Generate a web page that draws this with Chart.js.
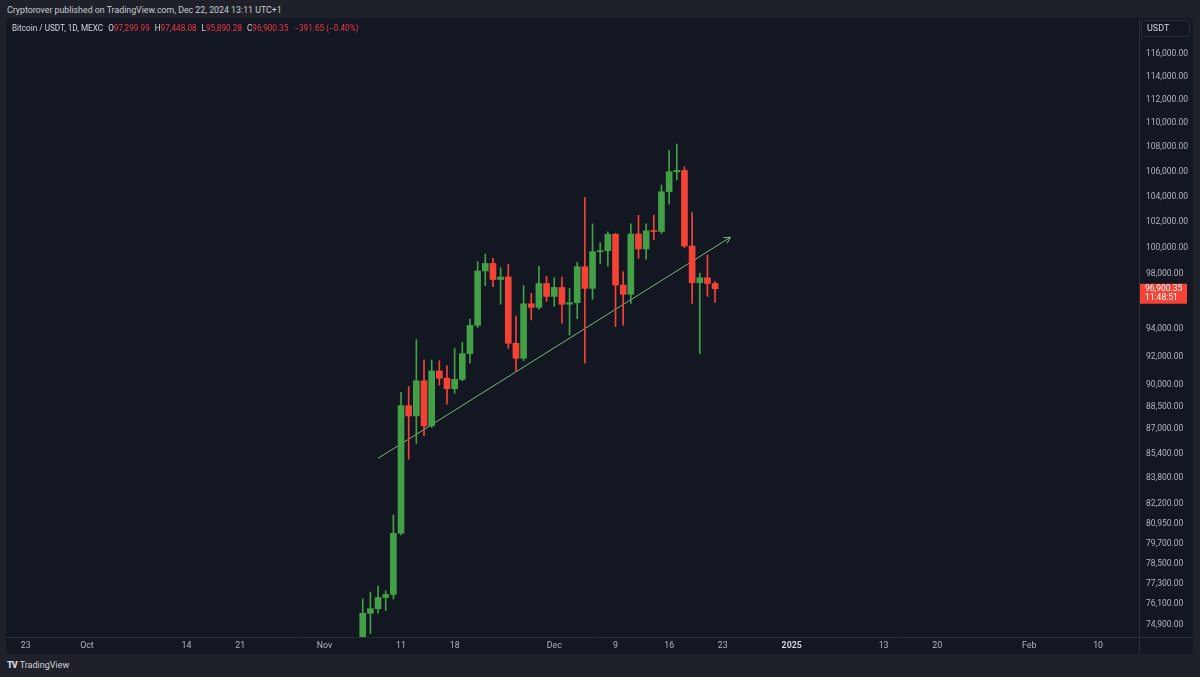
<!DOCTYPE html>
<html lang="en">
<head>
<meta charset="UTF-8">
<title>Bitcoin / USDT, 1D</title>
<script src="https://cdn.jsdelivr.net/npm/chart.js"></script>
<style>
  body { margin: 0; width: 1200px; height: 677px; overflow: hidden; background: #1e2129;
         font-family: Roboto, "Liberation Sans", sans-serif; }
  #topline { position: absolute; left: 7px; top: 5px; font-size: 8.8px; color: #c8cbd3; }
  #panel { position: absolute; left: 6px; top: 18px; width: 1187px; height: 636px;
           background: #131722; border-radius: 4px; }
  #btc { position: absolute; left: 6px; top: 18px; }
  #legend { position: absolute; left: 12px; top: 23px; font-size: 8.2px; color: #d1d4dc; white-space: nowrap; }
  #legend span { margin-left: 5px; }
  #legend .v { color: #f23645; margin-left: 0; }
  #legend .chg { margin-left: 6px; }
  #unit { position: absolute; left: 1141px; top: 20px; width: 42px; height: 15px; padding-left: 5px;
          border: 1px solid #2a2e39; border-radius: 3px; font-size: 9px; line-height: 15px; color: #d1d4dc; }
  #brand { position: absolute; left: 7px; top: 660px; font-size: 9px; color: #d1d4dc; }
  #brand b { font-weight: 900; letter-spacing: -1px; margin-right: 3px; }
</style>
</head>
<body>

<div id="topline">Cryptorover published on TradingView.com, Dec 22, 2024 13:11 UTC+1</div>
<div id="panel"></div>
<canvas id="btc" width="1187" height="636"></canvas>
<div id="legend">Bitcoin / USDT, 1D, MEXC<span>O</span><span class="v">97,299.99</span><span>H</span><span class="v">97,448.08</span><span>L</span><span class="v">95,890.28</span><span>C</span><span class="v">96,900.35</span><span class="v chg">−391.65 (−0.40%)</span></div>
<div id="unit">USDT</div>
<div id="brand"><b>TV</b>TradingView</div>

<script>
// daily candles
const dates = ['2024-11-06','2024-11-07','2024-11-08','2024-11-09','2024-11-10','2024-11-11','2024-11-12',
  '2024-11-13','2024-11-14','2024-11-15','2024-11-16','2024-11-17','2024-11-18','2024-11-19','2024-11-20',
  '2024-11-21','2024-11-22','2024-11-23','2024-11-24','2024-11-25','2024-11-26','2024-11-27','2024-11-28',
  '2024-11-29','2024-11-30','2024-12-01','2024-12-02','2024-12-03','2024-12-04','2024-12-05','2024-12-06',
  '2024-12-07','2024-12-08','2024-12-09','2024-12-10','2024-12-11','2024-12-12','2024-12-13','2024-12-14',
  '2024-12-15','2024-12-16','2024-12-17','2024-12-18','2024-12-19','2024-12-20','2024-12-21','2024-12-22'];
const opens  = [69380, 75560, 75830, 76480, 76660, 80340, 88600, 87900, 90300, 87230, 90980, 90480, 89750, 90400, 92200,
  94220, 98230, 98800, 97590, 97780, 92930, 91870, 95790, 95530, 97290, 96330, 97000, 95760, 95870, 98550, 96930,
  99690, 99770, 101030, 97180, 96490, 101050, 99900, 101300, 101250, 104380, 105990, 106100, 100130, 97350, 97720, 97299.99];
const highs  = [76400, 76790, 77160, 76880, 81480, 89500, 89900, 93200, 91760, 91760, 91700, 91340, 92560, 93000, 94680,
  98930, 99510, 99180, 98480, 98740, 94900, 97130, 96570, 98590, 97830, 97730, 97780, 96930, 98870, 103930, 101840,
  100380, 101230, 101110, 98180, 101840, 102510, 101840, 102520, 104920, 107720, 108270, 106400, 102720, 98070, 99440, 97448.08];
const lows   = [68800, 74380, 75570, 75720, 76390, 80240, 85030, 86070, 86580, 87140, 90000, 88690, 89440, 90300, 91520,
  94070, 97130, 97060, 95760, 92570, 90940, 91700, 94610, 95370, 95970, 95600, 94370, 93520, 94700, 91520, 96120,
  98800, 98590, 94130, 94230, 95810, 99180, 99130, 100600, 101100, 103400, 105320, 100000, 95810, 92200, 96330, 95890.28];
const closes = [75560, 75830, 76480, 76660, 80340, 88600, 87900, 90300, 87230, 90980, 90480, 89750, 90400, 92200, 94220,
  98230, 98800, 97590, 97780, 92930, 91870, 95790, 95530, 97290, 96330, 97000, 95760, 95870, 98550, 96930, 99690,
  99770, 101030, 97180, 96490, 101050, 99900, 101300, 101250, 104380, 105990, 106100, 100130, 97350, 97720, 97300, 96900.35];
const lastTime = '11:48:51';

// drawn trend line
const trendDates  = ['2024-11-08', '2024-12-24'];
const trendValues = [85090, 100800];

const yTicks = [74900, 76100, 77300, 78500, 79700, 80950, 82200, 83800, 85400, 87000, 88500, 90000, 92000, 94000,
  98000, 100000, 102000, 104000, 106000, 108000, 110000, 112000, 114000, 116000];
const xTickDates  = ['2024-09-23','2024-10-01','2024-10-14','2024-10-21','2024-11-01','2024-11-11','2024-11-18',
  '2024-12-01','2024-12-09','2024-12-16','2024-12-23','2025-01-01','2025-01-13','2025-01-20','2025-02-01','2025-02-10'];
const xTickLabels = ['23','Oct','14','21','Nov','11','18','Dec','9','16','23','2025','13','20','Feb','10'];

const UP = '#43a047', DOWN = '#f44336', TREND = '#7fb77e';
const AXIS_TEXT = '#b2b5be';

function dayNum(s) {
  const [y, m, d] = s.split('-').map(Number);
  return Date.UTC(y, m - 1, d) / 864e5;
}

const candleColor = dates.map((d, i) => closes[i] >= opens[i] ? UP : DOWN);
const xLabelOf = {};
xTickDates.forEach((d, i) => xLabelOf[dayNum(d)] = xTickLabels[i]);
const fmt = v => v.toLocaleString('en-US', {minimumFractionDigits: 2, maximumFractionDigits: 2});

const refDay = dayNum('2024-11-11');

const framePlugin = {
  id: 'frame',
  afterDraw(chart) {
    const {ctx, chartArea: a, scales: {y}} = chart;
    ctx.save();
    // axis separators
    ctx.strokeStyle = '#2a2e39';
    ctx.lineWidth = 1;
    ctx.beginPath();
    ctx.moveTo(a.right + 0.5, 0); ctx.lineTo(a.right + 0.5, chart.height);
    ctx.moveTo(0, a.bottom + 0.5); ctx.lineTo(chart.width, a.bottom + 0.5);
    ctx.stroke();

    // arrow head on the trend line
    const pts = chart.getDatasetMeta(2).data;
    const p0 = pts[pts.length - 2], p1 = pts[pts.length - 1];
    const ang = Math.atan2(p1.y - p0.y, p1.x - p0.x);
    ctx.strokeStyle = TREND;
    ctx.beginPath();
    ctx.moveTo(p1.x - 7 * Math.cos(ang - 0.5), p1.y - 7 * Math.sin(ang - 0.5));
    ctx.lineTo(p1.x, p1.y);
    ctx.lineTo(p1.x - 7 * Math.cos(ang + 0.5), p1.y - 7 * Math.sin(ang + 0.5));
    ctx.stroke();

    // last price label
    const last = closes.length - 1;
    const py = y.getPixelForValue(closes[last]);
    ctx.fillStyle = candleColor[last];
    ctx.fillRect(a.right + 1, py - 5, 47, 20);
    ctx.fillStyle = '#ffffff';
    ctx.font = '8.5px Roboto';
    ctx.textBaseline = 'middle';
    ctx.fillText(fmt(closes[last]), a.right + 6, py + 0.5);
    ctx.fillText(lastTime, a.right + 6, py + 9.5);
    ctx.restore();
  }
};

new Chart(document.getElementById('btc'), {
  type: 'bar',
  data: {
    datasets: [
      {
        // wicks
        data: dates.map((d, i) => ({x: dayNum(d), y: [lows[i], highs[i]]})),
        backgroundColor: candleColor,
        barThickness: 1,
        grouped: false,
        clip: 0
      },
      {
        // bodies
        data: dates.map((d, i) => ({x: dayNum(d), y: [opens[i], closes[i]]})),
        backgroundColor: candleColor,
        barThickness: 6,
        minBarLength: 1,
        grouped: false,
        clip: 0
      },
      {
        type: 'line',
        data: trendDates.map((d, i) => ({x: dayNum(d), y: trendValues[i]})),
        borderColor: TREND,
        borderWidth: 1,
        pointRadius: 0,
        fill: false,
        clip: 0
      }
    ]
  },
  options: {
    responsive: false,
    animation: false,
    devicePixelRatio: 1,
    layout: {padding: 0},
    plugins: {legend: {display: false}, tooltip: {enabled: false}},
    scales: {
      x: {
        type: 'linear',
        offset: false,
        min: refDay - 51.57,
        max: refDay + 96.34,
        grid: {display: false, drawTicks: false},
        border: {display: false},
        afterBuildTicks: s => { s.ticks = xTickDates.map(d => ({value: dayNum(d)})); },
        afterFit: s => { s.height = 17; s.paddingLeft = 0; s.paddingRight = 0; },
        ticks: {
          autoSkip: false,
          maxRotation: 0,
          padding: 4,
          color: c => c.tick && c.tick.label === '2025' ? '#d1d4dc' : AXIS_TEXT,
          font: c => ({family: 'Roboto', size: 8.8, weight: c.tick && c.tick.label === '2025' ? 'bold' : 'normal'}),
          callback: v => xLabelOf[v] || ''
        }
      },
      y: {
        type: 'logarithmic',
        position: 'right',
        min: 74200,
        max: 119250,
        grid: {display: false, drawTicks: false},
        border: {display: false},
        afterBuildTicks: s => { s.ticks = yTicks.map(v => ({value: v})); },
        afterFit: s => { s.width = 54; s.paddingTop = 0; s.paddingBottom = 0; },
        ticks: {
          padding: 7,
          crossAlign: 'near',
          color: AXIS_TEXT,
          font: {family: 'Roboto', size: 8.5},
          callback: v => fmt(v)
        }
      }
    }
  },
  plugins: [framePlugin]
});
</script>
</body>
</html>
